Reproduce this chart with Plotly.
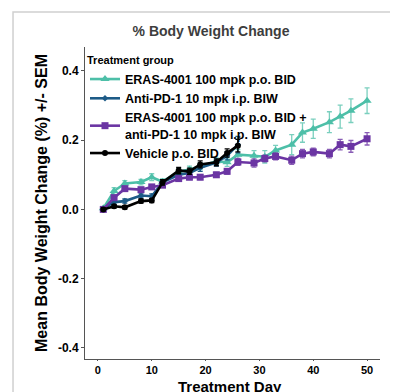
import plotly.graph_objects as go

days_long = [1, 3, 5, 8, 10, 12, 15, 17, 19, 22, 24, 26, 29, 31, 33, 36, 38, 40, 43, 45, 47, 50]
days_short = [1, 3, 5, 8, 10, 12, 15, 17, 19, 22, 24, 26]

eras_mean = [0.003, 0.053, 0.075, 0.079, 0.093, 0.080, 0.109, 0.115, 0.125, 0.139, 0.136, 0.158,
             0.155, 0.152, 0.170, 0.187, 0.222, 0.233, 0.252, 0.268, 0.285, 0.314]
eras_sem = [0.004, 0.010, 0.008, 0.008, 0.010, 0.008, 0.010, 0.010, 0.010, 0.010, 0.012, 0.015,
            0.015, 0.018, 0.015, 0.029, 0.028, 0.028, 0.030, 0.033, 0.034, 0.037]

combo_mean = [0.000, 0.034, 0.060, 0.057, 0.065, 0.070, 0.089, 0.093, 0.093, 0.100, 0.110, 0.137,
              0.134, 0.147, 0.153, 0.142, 0.161, 0.166, 0.161, 0.187, 0.182, 0.204]
combo_sem = [0.004, 0.006, 0.006, 0.006, 0.006, 0.006, 0.007, 0.007, 0.007, 0.007, 0.008, 0.010,
             0.012, 0.010, 0.010, 0.012, 0.012, 0.011, 0.012, 0.015, 0.017, 0.018]

pd1_mean = [0.002, 0.021, 0.024, 0.040, 0.038, 0.078, 0.100, 0.105, 0.120, 0.135, 0.155, 0.187]
pd1_sem = [0.004, 0.006, 0.006, 0.007, 0.007, 0.008, 0.009, 0.009, 0.010, 0.010, 0.012, 0.024]

veh_mean = [0.000, 0.009, 0.006, 0.024, 0.026, 0.078, 0.112, 0.110, 0.130, 0.136, 0.163, 0.184]
veh_sem = [0.004, 0.005, 0.005, 0.006, 0.006, 0.008, 0.009, 0.009, 0.010, 0.010, 0.012, 0.018]

y_ticks = [-0.4, -0.2, 0.0, 0.2, 0.4]
y_labels = ["-0.4", "-0.2", "0.0", "0.2", "0.4"]
x_ticks = [0, 10, 20, 30, 40, 50]

names = ["<b>ERAS-4001 100 mpk p.o. BID</b>",
         "<b>Anti-PD-1 10 mpk i.p. BIW</b>",
         "<b>ERAS-4001 100 mpk p.o. BID +<br>anti-PD-1 10 mpk i.p. BIW</b>",
         "<b>Vehicle p.o. BID</b>"]

teal = "#4DBFA8"
blue = "#1D5B87"
purple = "#6B35A3"
black = "#000000"

fig = go.Figure()

def add(x, y, e, name, color, ecolor, symbol, size):
    fig.add_trace(go.Scatter(
        x=x, y=y, name=name, mode="lines+markers",
        line=dict(color=color, width=2.6),
        marker=dict(color=color, symbol=symbol, size=size),
        error_y=dict(type="data", array=e, visible=True, color=ecolor, thickness=1.3, width=2.5),
    ))

add(days_long, eras_mean, eras_sem, names[0], teal, "rgba(77,191,168,0.75)", "triangle-up", 8)
add(days_short, pd1_mean, pd1_sem, names[1], blue, blue, "diamond", 5)
add(days_long, combo_mean, combo_sem, names[2], purple, "rgba(107,53,163,0.8)", "square", 7)
add(days_short, veh_mean, veh_sem, names[3], black, black, "circle", 6)

fig.update_layout(
    width=390, height=384,
    margin=dict(l=77, r=18, t=39, b=33, autoexpand=False),
    paper_bgcolor="white", plot_bgcolor="white",
    font=dict(family="Liberation Sans, Arial, sans-serif", color="black"),
    title=dict(text="<b>% Body Weight Change</b>", x=0.5205, xref="container", y=0.940,
               yref="container", xanchor="center", yanchor="middle",
               font=dict(size=14, color="#3d3d3d")),
    showlegend=True,
    legend=dict(
        x=0.0, y=0.99, xanchor="left", yanchor="top",
        bgcolor="rgba(0,0,0,0)",
        title=dict(text="<b>Treatment group</b>", font=dict(size=11)),
        font=dict(size=12.5, color="black"),
        itemwidth=30, tracegroupgap=0,
    ),
    xaxis=dict(
        range=[-2.4, 52.4], tickvals=x_ticks, showgrid=False, zeroline=False,
        showline=True, linecolor="#555", linewidth=1, automargin=False,
        ticks="outside", ticklen=1, tickcolor="#555",
        tickfont=dict(size=11, color="black", weight="bold"),
    ),
    yaxis=dict(
        range=[-0.432, 0.469], tickvals=y_ticks, ticktext=y_labels, showgrid=False,
        zeroline=False, showline=True, linecolor="#555", linewidth=1, automargin=False,
        ticks="outside", ticklen=3, tickcolor="#555",
        tickfont=dict(size=12, color="black", weight="bold"),
        title=dict(text="<b>Mean Body Weight Change (%) +/- SEM</b>", font=dict(size=16), standoff=6),
    ),
)

fig.add_annotation(text="<b>Treatment Day</b>", xref="paper", yref="paper", x=0.493, y=-0.087,
                   xanchor="center", yanchor="middle", showarrow=False,
                   font=dict(size=15, color="black"))

# light gray page frame (left and top edges)
fig.add_shape(type="rect", xref="paper", yref="paper", x0=-0.244, x1=1.3, y0=-0.4, y1=1.112,
              line=dict(color="#d0d0d0", width=1.5), fillcolor="rgba(0,0,0,0)", layer="above")

fig.write_html("out.html")
